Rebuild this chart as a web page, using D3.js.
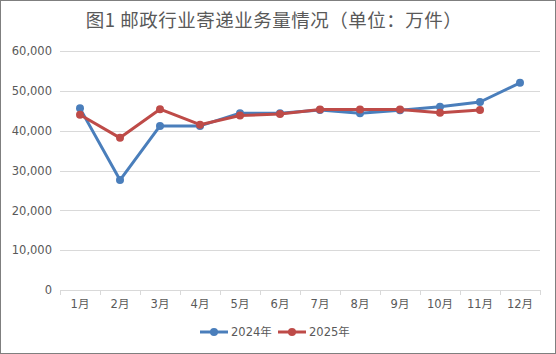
<!DOCTYPE html>
<html>
<head>
<meta charset="utf-8">
<script src="https://cdn.jsdelivr.net/npm/d3@7"></script>
<style>
  body { margin: 0; background: #fff; }
  text { font-family: "DejaVu Sans", "Noto Sans CJK SC", sans-serif; fill: #595959; }
</style>
</head>
<body>
<div id="chart"></div>
<script>
const months = ["1月","2月","3月","4月","5月","6月","7月","8月","9月","10月","11月","12月"];
const values2024 = [45600, 27600, 41200, 41200, 44400, 44400, 45200, 44400, 45100, 46000, 47200, 52000];
const values2025 = [44000, 38200, 45400, 41500, 43800, 44200, 45300, 45300, 45300, 44500, 45200];
const yTicks = [0, 10000, 20000, 30000, 40000, 50000, 60000];
const seriesNames = ["2024年", "2025年"];
const seriesColors = ["#4a7ebb", "#be4b48"];

const width = 556, height = 354;
const margin = { top: 51, right: 16, bottom: 64, left: 60 };

const svg = d3.select("#chart").append("svg")
  .attr("width", width).attr("height", height);

svg.append("rect")
  .attr("x", 0.5).attr("y", 0.5)
  .attr("width", width - 1).attr("height", height - 1)
  .attr("fill", "#fff").attr("stroke", "#7f7f7f");

svg.append("text")
  .attr("x", 274).attr("y", 27)
  .attr("text-anchor", "middle")
  .style("font-family", "'Noto Sans CJK SC', sans-serif")
  .style("font-size", "18.5px")
  .style("letter-spacing", "0.5px")
  .text("图1 邮政行业寄递业务量情况（单位：万件）");

const scale = {};
scale.x = d3.scaleBand().domain(months).range([margin.left, width - margin.right]);
scale.y = d3.scaleLinear().domain([0, 60000]).range([height - margin.bottom, margin.top]);

// gridlines
svg.append("g").selectAll("line").data(yTicks.filter(d => d > 0)).join("line")
  .attr("x1", margin.left).attr("x2", width - margin.right)
  .attr("y1", d => Math.round(scale.y(d)) + 0.5).attr("y2", d => Math.round(scale.y(d)) + 0.5)
  .attr("stroke", "#d9d9d9");

// y axis labels
const yAxis = d3.axisLeft(scale.y).tickValues(yTicks).tickSize(0).tickPadding(8)
  .tickFormat(d3.format(","));
svg.append("g").attr("class", "axis y")
  .attr("transform", `translate(${margin.left},0)`)
  .call(yAxis)
  .call(g => g.select(".domain").remove())
  .selectAll("text").style("font-size", "11.5px").attr("fill", "#595959");

// x axis
const x0 = height - margin.bottom;
const xg = svg.append("g").attr("class", "axis x");
xg.append("line")
  .attr("x1", margin.left).attr("x2", width - margin.right)
  .attr("y1", x0 + 0.5).attr("y2", x0 + 0.5)
  .attr("stroke", "#d9d9d9");
const bounds = months.map(m => scale.x(m)).concat([width - margin.right]);
xg.selectAll("line.tick").data(bounds).join("line")
  .attr("class", "tick")
  .attr("x1", d => Math.round(d) + 0.5).attr("x2", d => Math.round(d) + 0.5)
  .attr("y1", x0).attr("y2", x0 + 5)
  .attr("stroke", "#d9d9d9");
xg.selectAll("text").data(months).join("text")
  .attr("x", d => scale.x(d) + scale.x.bandwidth() / 2)
  .attr("y", x0 + 18)
  .attr("text-anchor", "middle")
  .style("font-size", "11.5px")
  .style("font-family", "'DejaVu Sans', 'Noto Sans CJK SC', sans-serif")
  .text(d => d);

// series
const series = [values2024, values2025];
const line = d3.line()
  .x((d, i) => scale.x(months[i]) + scale.x.bandwidth() / 2)
  .y(d => scale.y(d));

series.forEach((vals, k) => {
  const g = svg.append("g");
  g.append("path").datum(vals)
    .attr("d", line)
    .attr("fill", "none")
    .attr("stroke", seriesColors[k])
    .attr("stroke-width", 3)
    .attr("stroke-linejoin", "round");
  g.selectAll("circle").data(vals).join("circle")
    .attr("cx", (d, i) => scale.x(months[i]) + scale.x.bandwidth() / 2)
    .attr("cy", d => scale.y(d))
    .attr("r", 4)
    .attr("fill", seriesColors[k]);
});

// legend
const legend = svg.append("g").attr("transform", "translate(200,332)");
seriesNames.forEach((name, k) => {
  const lg = legend.append("g").attr("transform", `translate(${k * 78},0)`);
  lg.append("line").attr("x1", 0).attr("x2", 28).attr("y1", 0).attr("y2", 0)
    .attr("stroke", seriesColors[k]).attr("stroke-width", 3);
  lg.append("circle").attr("cx", 14).attr("cy", 0).attr("r", 4).attr("fill", seriesColors[k]);
  lg.append("text").attr("x", 31).attr("y", 4)
    .style("font-size", "11.5px")
    .text(name);
});
</script>
</body>
</html>
